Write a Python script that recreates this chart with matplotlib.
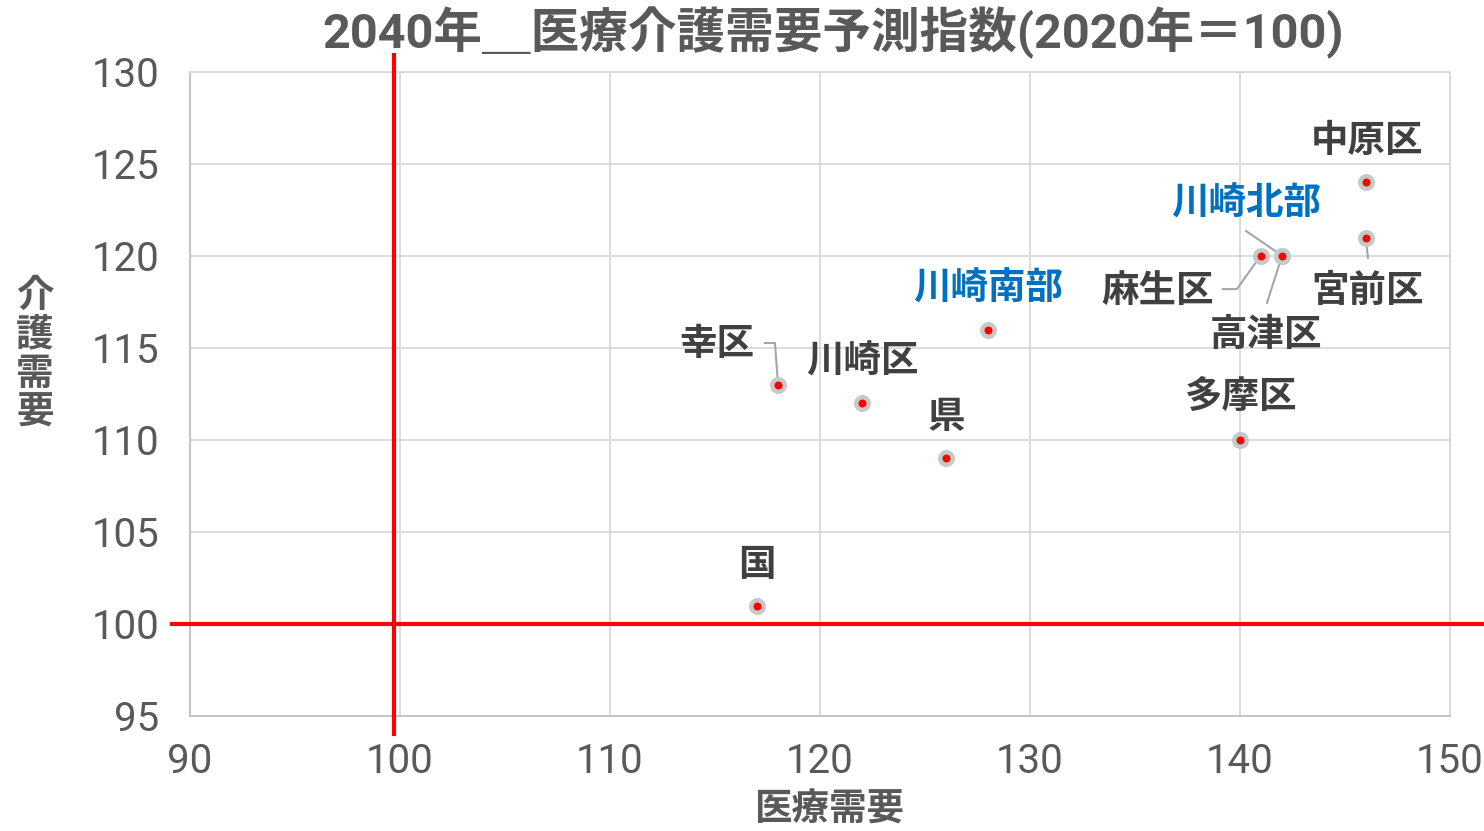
import matplotlib
matplotlib.use("Agg")
import matplotlib.pyplot as plt
from matplotlib import font_manager

# --- data -------------------------------------------------------------
names = ["国", "幸区", "川崎区", "県", "川崎南部", "多摩区", "麻生区", "高津区", "川崎北部", "宮前区", "中原区"]
medical = [117, 118, 122, 126, 128, 140, 141, 142, 142, 146, 146]
care = [101, 113, 112, 109, 116, 110, 120, 120, 120, 121, 124]
x_ticks = [90, 100, 110, 120, 130, 140, 150]
y_ticks = [95, 100, 105, 110, 115, 120, 125, 130]
ref_x = 99.7
ref_y = 100

# label placement (data coords) and optional leader lines
label_pos = {
    "中原区": (146.05, 126.25),
    "川崎北部": (140.3, 122.85),
    "麻生区": (136.1, 118.15),
    "宮前区": (146.1, 118.15),
    "高津区": (141.25, 115.75),
    "川崎南部": (128.0, 118.25),
    "幸区": (115.1, 115.25),
    "川崎区": (122.0, 114.3),
    "県": (126.0, 111.3),
    "多摩区": (140.0, 112.3),
    "国": (117.0, 103.25),
}
leaders = {
    "幸区": ([117.38, 117.86, 118.0], [115.27, 115.27, 113.1]),
    "麻生区": ([139.19, 139.86, 140.95], [118.2, 118.2, 119.95]),
    "高津区": ([141.29, 141.95], [117.45, 119.8]),
    "川崎北部": ([140.29, 141.9], [121.36, 120.1]),
    "宮前区": ([146.1, 146.0], [119.9, 120.9]),
}
blue_labels = {"川崎北部", "川崎南部"}

# --- fonts ------------------------------------------------------------
avail = {f.name for f in font_manager.fontManager.ttflist}
num_font = "Roboto" if "Roboto" in avail else "Liberation Sans"
cjk = "Noto Sans CJK JP"
mixed = [num_font, cjk, "DejaVu Sans"]
cjk_only = [cjk, "DejaVu Sans"]
plt.rcParams["font.family"] = mixed

gray_text = "#595959"
label_text = "#404040"

fig = plt.figure(figsize=(14.84, 8.31), dpi=100)
ax = fig.add_axes([0.128, 0.1384, 0.849, 0.775])

ax.set_xlim(90, 150)
ax.set_ylim(95, 130)
ax.set_xticks(x_ticks)
ax.set_yticks(y_ticks)
ax.grid(True, color="#d9d9d9", linewidth=1.3)
ax.set_axisbelow(True)
for side, sp in ax.spines.items():
    sp.set_color("#d9d9d9" if side in ("top", "right") else "#bfbfbf")
    sp.set_linewidth(1.3)
ax.tick_params(length=0, labelsize=29, labelcolor=gray_text)
ax.tick_params(axis="y", pad=22)
ax.tick_params(axis="x", pad=19)
for lbl in ax.get_xticklabels() + ax.get_yticklabels():
    lbl.set_family(mixed)

# reference lines at index 100
ax.plot([ref_x, ref_x], [94.0, 130.9], color="#ff0000", lw=3, clip_on=False, zorder=3)
ax.plot([89.15, 151.6], [ref_y, ref_y], color="#ff0000", lw=3, clip_on=False, zorder=3)

# points
ax.plot(medical, care, linestyle="none", marker="o", markersize=9,
        markerfacecolor="#ff0000", markeredgecolor="#c8c8c8", markeredgewidth=3.2, zorder=5)

# leader lines and labels
for name, (lx, ly) in leaders.items():
    ax.plot(lx, ly, color="#a6a6a6", lw=1.5, zorder=4)
for name in names:
    tx, ty = label_pos[name]
    col = "#0070c0" if name in blue_labels else label_text
    ax.text(tx, ty, name, ha="center", va="center", fontsize=27, color=col,
            fontweight="bold", family=cjk_only, zorder=6)

fig.text(0.5615, 0.960, "2040年＿医療介護需要予測指数(2020年＝100)", ha="center", va="center",
         fontsize=35, fontweight="bold", color=gray_text, family=mixed)
fig.text(0.559, 0.026, "医療需要", ha="center", va="center", fontsize=27,
         fontweight="bold", color=gray_text, family=cjk_only)
fig.text(0.0235, 0.574, "介\n護\n需\n要", ha="center", va="center", fontsize=27,
         fontweight="bold", color=gray_text, family=cjk_only, linespacing=1.0)

fig.savefig("out.png", dpi=100)
